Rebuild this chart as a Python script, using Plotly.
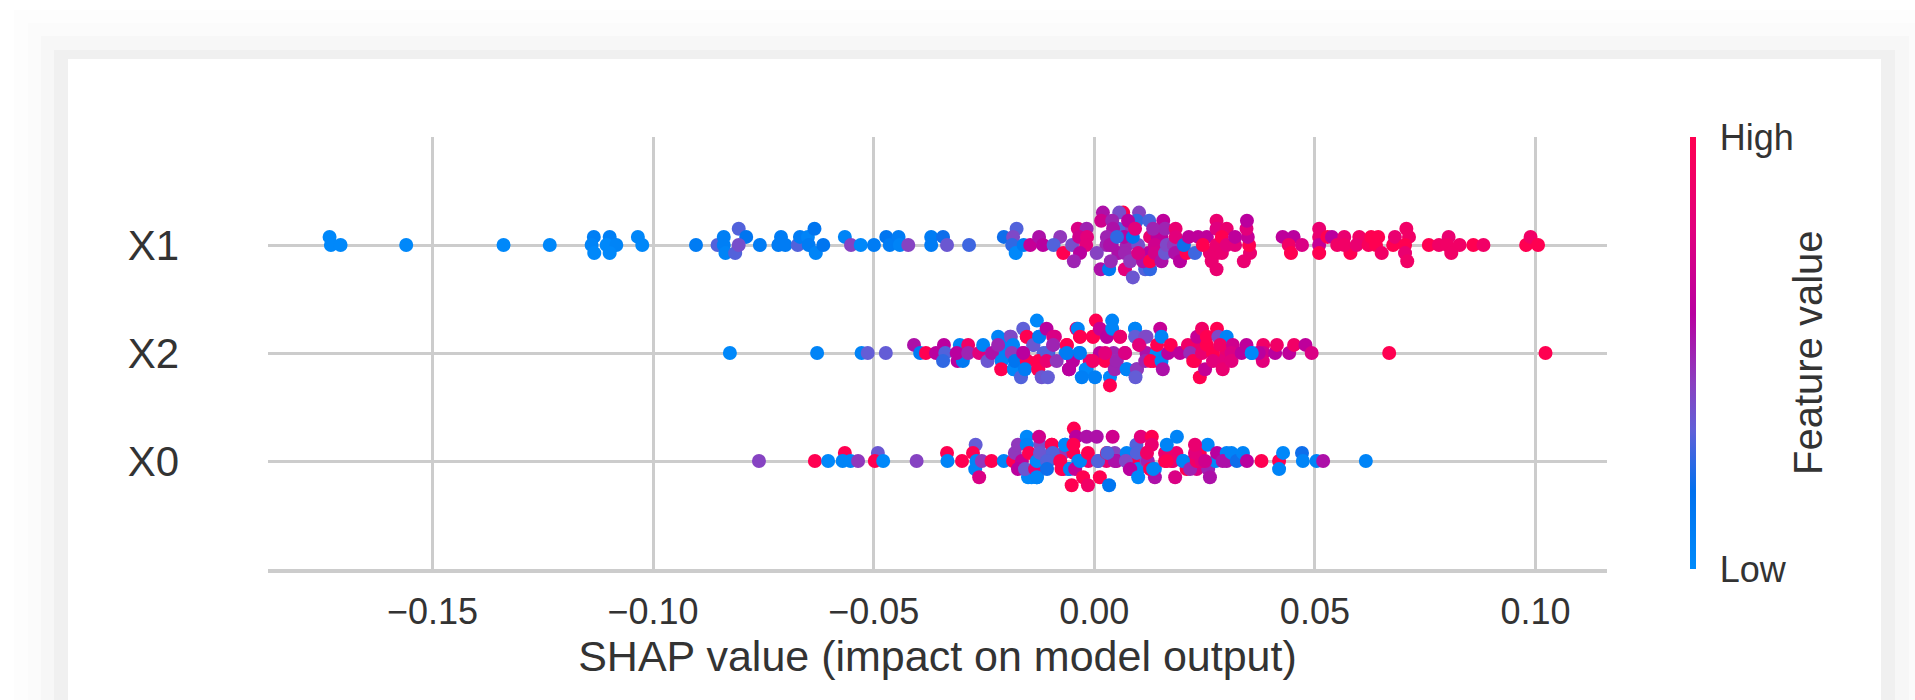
import plotly.graph_objects as go

features = ["X0", "X2", "X1"]
tick_values = [-0.15, -0.10, -0.05, 0.0, 0.05, 0.10]
tick_labels = ["−0.15", "−0.10", "−0.05", "0.00", "0.05", "0.10"]
x_title = "SHAP value (impact on model output)"
cbar_title = "Feature value"
swarm_step = 0.075

# SHAP value, swarm level, normalised feature value
x1_shap = [0.0038,0.0053,0.0072,0.0026,0.0042,0.0079,0.0053,0.0151,0.0140,0.0170,0.0261,0.0121,-0.1738,-0.1735,-0.1713,-0.1564,-0.1343,-0.1238,-0.1138,-0.1143,-0.1137,-0.1102,-0.1109,-0.1087,-0.1102,-0.1038,-0.1028,-0.0906,-0.0857,-0.0843,-0.0843,-0.0839,-0.0817,-0.0809,-0.0792,-0.0809,-0.0761,-0.0719,-0.0713,-0.0703,-0.0675,-0.0670,-0.0652,-0.0650,-0.0637,-0.0634,-0.0617,-0.0568,-0.0554,-0.0532,-0.0502,-0.0474,-0.0466,-0.0446,-0.0443,-0.0424,-0.0372,-0.0372,-0.0345,-0.0336,-0.0286,-0.0207,-0.0178,-0.0186,-0.0188,-0.0180,-0.0162,-0.0147,-0.0127,-0.0118,-0.0079,-0.0094,-0.0072,-0.0052,-0.0039,-0.0019,-0.0036,-0.0018,-0.0020,-0.0034,-0.0048,0.0004,0.0013,0.0032,0.0036,0.0064,0.0018,0.0014,0.0055,0.0039,0.0041,0.0027,0.0034,0.0066,0.0050,0.0068,0.0086,0.0068,0.0080,0.0114,0.0125,0.0109,0.0125,0.0098,0.0086,0.0098,0.0100,0.0095,0.0075,0.0091,0.0123,0.0155,0.0125,0.0142,0.0136,0.0136,0.0151,0.0159,0.0163,0.0159,0.0132,0.0179,0.0182,0.0183,0.0183,0.0193,0.0208,0.0202,0.0227,0.0213,0.0234,0.0254,0.0245,0.0265,0.0276,0.0276,0.0276,0.0288,0.0276,0.0276,0.0299,0.0288,0.0299,0.0318,0.0318,0.0338,0.0352,0.0350,0.0347,0.0344,0.0345,0.0426,0.0451,0.0440,0.0445,0.0470,0.0509,0.0509,0.0509,0.0509,0.0528,0.0538,0.0550,0.0566,0.0580,0.0566,0.0600,0.0594,0.0621,0.0627,0.0643,0.0638,0.0651,0.0677,0.0681,0.0707,0.0713,0.0704,0.0704,0.0709,0.0758,0.0781,0.0803,0.0800,0.0828,0.0809,0.0859,0.0882,0.0979,0.0989,0.1006]
x1_level = [0,-1,0,0,1,2,2,1,0,0,-1,-1,1,0,0,0,0,0,1,0,-1,1,0,0,-1,1,0,0,0,1,0,-1,-1,2,1,0,0,0,1,0,0,1,1,0,2,-1,0,1,0,0,0,1,0,1,0,0,1,0,1,0,0,1,2,1,0,-1,0,0,1,0,1,0,-1,0,2,2,1,1,0,-1,-2,-1,-3,-3,-2,4,4,3,4,3,2,1,0,1,1,-3,-4,-1,-2,-3,-3,-2,-2,0,1,-1,4,3,3,2,3,3,1,1,0,-1,-2,-1,0,2,2,0,-1,2,1,-2,-1,0,-1,1,1,1,0,-2,-3,-1,0,-1,3,2,2,1,0,0,1,-2,-1,0,1,2,3,1,1,0,-1,0,2,1,0,-1,1,1,0,1,-1,0,1,0,0,1,1,0,-1,0,1,2,1,0,-1,-2,0,0,1,0,0,-1,0,0,0,1,0]
x1_feat = [0.55,0.55,0.5,0.5,0.5,0.45,0.3,0.6,0.6,0.4,0.85,0.6,0.02,0.02,0.02,0.02,0.02,0.02,0.08,0.05,0.02,0.08,0.02,0.05,0.02,0.03,0.03,0.1,0.3,0.08,0.08,0.05,0.3,0.3,0.15,0.38,0.1,0.1,0.1,0.1,0.3,0.1,0.05,0.1,0.15,0.05,0.15,0.05,0.42,0.02,0.1,0.15,0.1,0.1,0.05,0.42,0.1,0.1,0.2,0.35,0.27,0.2,0.3,0.4,0.25,0.02,0.1,0.65,0.55,0.6,0.45,0.3,1,0.38,0.75,0.5,0.7,0.8,0.8,0.6,0.5,0.42,0.55,0.12,0.48,1,0.55,0.7,0.38,0.5,0.55,0.5,0.55,0.58,0.25,0.8,0.35,0.5,0.45,0.3,0.25,0.55,1,0.38,0.15,0.75,0.42,0.25,0.6,0.8,0.28,0.62,0.85,0.62,0.7,0.72,0.55,0.35,0.4,0.5,0.5,0.45,0.55,0.85,0.8,0.6,1,0.2,0.27,0.62,0.62,0.62,1,0.85,0.85,0.85,0.85,0.85,0.85,0.78,0.85,1,0.8,0.8,0.62,0.85,0.85,1,0.65,0.8,0.6,0.62,0.6,0.9,1,0.75,0.85,0.85,0.65,1,1,0.6,0.9,0.85,1,0.9,0.9,0.85,0.95,1,1,1,0.9,1,0.85,0.9,0.9,1,0.85,0.9,1,0.9,0.85,0.9,0.9,0.9,1,0.9,1,0.9,1]

x2_shap = [-0.0193,-0.0208,-0.0185,-0.0155,-0.0127,-0.0140,-0.0106,-0.0095,-0.0091,-0.0153,-0.0129,-0.0163,-0.0064,-0.0067,-0.0034,-0.0036,-0.0059,-0.0021,-0.0004,0.0027,0.0057,0.0042,0.0068,0.0049,0.0095,0.0101,0.0117,0.0091,0.0072,0.0011,-0.0012,0.0023,-0.0201,-0.0178,-0.0117,-0.0050,0.0117,0.0133,0.0140,0.0227,0.0299,0.0238,0.0284,-0.0829,-0.0631,-0.0530,-0.0516,-0.0475,-0.0411,-0.0397,-0.0384,-0.0361,-0.0343,-0.0340,-0.0345,-0.0312,-0.0300,-0.0307,-0.0288,-0.0314,-0.0288,-0.0263,-0.0254,-0.0244,-0.0234,-0.0220,-0.0220,-0.0212,-0.0213,-0.0191,-0.0186,-0.0189,-0.0184,-0.0182,-0.0168,-0.0163,-0.0132,-0.0155,-0.0155,-0.0159,-0.0140,-0.0163,-0.0127,-0.0129,-0.0129,-0.0110,-0.0095,-0.0109,-0.0110,-0.0095,-0.0087,-0.0121,-0.0107,-0.0064,-0.0064,-0.0059,-0.0042,-0.0039,-0.0034,-0.0034,-0.0019,-0.0030,0.0000,0.0002,-0.0005,-0.0005,0.0011,0.0027,0.0039,0.0039,0.0034,0.0034,0.0045,0.0057,0.0049,0.0023,0.0068,0.0072,0.0091,0.0091,0.0114,0.0100,0.0095,0.0092,0.0114,0.0126,0.0141,0.0148,0.0151,0.0151,0.0154,0.0166,0.0172,0.0193,0.0211,0.0216,0.0223,0.0232,0.0243,0.0238,0.0250,0.0243,0.0254,0.0254,0.0268,0.0277,0.0280,0.0268,0.0290,0.0299,0.0284,0.0313,0.0310,0.0310,0.0333,0.0344,0.0356,0.0370,0.0382,0.0382,0.0381,0.0372,0.0356,0.0409,0.0413,0.0441,0.0452,0.0478,0.0492,0.0668,0.1023]
x2_level = [2,0,-2,2,2,1,0,1,2,-1,-2,0,1,0,2,0,-2,-2,2,2,2,0,0,-1,-2,1,2,3,-2,0,-1,-1,1,0,0,-1,0,-1,0,-1,0,1,-1,0,0,0,0,0,1,0,0,0,1,0,-1,-1,-1,1,1,0,0,0,1,-1,0,2,1,-1,-2,2,1,0,-2,-1,-3,3,4,2,-1,-2,1,0,2,-1,-2,3,2,0,-1,1,-1,-3,-3,1,0,-2,3,3,2,0,-2,-3,-3,4,2,-1,3,2,4,3,-3,-4,-2,2,-1,0,0,-2,3,2,2,1,-2,-3,-1,-1,1,3,2,-1,-2,0,1,0,1,0,-1,2,3,-3,-2,0,1,2,0,3,2,-1,-2,2,1,1,0,-1,0,1,0,0,1,0,-1,0,0,0,1,0,1,1,0,0,0]
x2_feat = [0.42,0.05,0.02,1,0.02,0.2,0.25,0.45,0.75,0.85,0.95,0.6,1,0.05,1,0.05,0.55,0.02,1,0.6,1,0.5,0.75,0.4,0.45,1,0.4,0.05,0.02,0.6,0.85,1,0.05,0.05,0.3,0.6,0.55,1,0.02,1,0.85,0.85,0.8,0.02,0.05,0.05,0.33,0.33,0.55,0.1,1,0.6,0.6,0.3,0.25,0.6,0.12,0.05,0.9,0.6,0.5,0.8,0.05,0.35,0.55,0.05,0.5,0.05,1,0.4,0.05,0.45,0.02,0.15,0.3,0.32,0.02,1,1,0.1,0.35,0.6,0.1,1,1,0.6,0.75,0.3,0.85,0.5,0.45,0.35,0.33,1,0.1,0.6,0.85,0.05,1,0.1,0.02,0.08,0.08,1,1,0.9,0.65,0.6,0.05,0.05,0.02,1,0.5,0.85,0.5,0.8,0.75,0.05,0.05,0.33,0.4,0.8,0.45,0.33,0.5,1,1,0.65,0.05,0.05,0.55,0.6,1,0.62,0.9,0.48,1,0.65,0.9,1,0.65,0.85,1,1,1,1,0.4,0.8,0.85,0.05,0.9,0.7,0.75,0.8,0.6,0.62,0.05,0.55,0.9,0.7,0.8,0.6,0.02,0.6,0.9,0.62,0.9,0.62,0.75,1,1]

x0_shap = [-0.0144,-0.0140,-0.0132,-0.0132,-0.0125,-0.0106,-0.0098,-0.0098,-0.0079,-0.0072,-0.0072,-0.0068,-0.0061,-0.0049,-0.0038,-0.0015,0.0007,0.0026,0.0045,0.0049,0.0072,0.0079,0.0094,0.0094,0.0098,0.0117,0.0117,0.0136,0.0159,0.0159,0.0177,0.0185,0.0200,0.0208,0.0223,0.0231,0.0238,-0.0763,-0.0636,-0.0606,-0.0568,-0.0573,-0.0555,-0.0538,-0.0493,-0.0500,-0.0481,-0.0405,-0.0336,-0.0335,-0.0302,-0.0271,-0.0277,-0.0272,-0.0263,-0.0269,-0.0257,-0.0235,-0.0207,-0.0186,-0.0182,-0.0175,-0.0166,-0.0175,-0.0155,-0.0155,-0.0152,-0.0159,-0.0150,-0.0136,-0.0132,-0.0132,-0.0127,-0.0125,-0.0098,-0.0096,-0.0109,-0.0109,-0.0079,-0.0076,-0.0068,-0.0057,-0.0053,-0.0048,-0.0043,-0.0049,-0.0045,-0.0034,-0.0027,-0.0016,-0.0016,-0.0019,0.0004,0.0007,0.0027,0.0011,0.0032,0.0040,0.0045,0.0028,0.0072,0.0070,0.0080,0.0098,0.0095,0.0104,0.0120,0.0129,0.0129,0.0118,0.0136,0.0125,0.0132,0.0163,0.0186,0.0182,0.0174,0.0163,0.0200,0.0216,0.0231,0.0227,0.0256,0.0257,0.0261,0.0274,0.0277,0.0227,0.0242,0.0250,0.0299,0.0299,0.0290,0.0310,0.0322,0.0336,0.0345,0.0378,0.0418,0.0427,0.0418,0.0470,0.0472,0.0503,0.0518,0.0615]
x0_level = [-2,-1,0,-2,2,0,1,2,0,1,-1,2,-1,1,0,0,0,0,1,0,0,-1,2,0,-1,0,1,-1,0,1,0,1,0,-1,0,-1,1,0,0,0,1,0,0,0,1,0,0,0,1,0,0,2,1,-1,-2,0,0,0,0,0,1,2,0,-1,3,2,-2,-1,1,-1,-2,0,3,1,2,1,0,-1,0,-1,2,-1,-3,4,3,2,-1,0,-2,-3,1,3,3,0,1,-2,-3,3,0,1,1,0,-1,-2,1,3,0,3,2,1,-2,-1,-1,2,3,-2,0,0,0,-1,0,1,2,-1,-2,0,1,2,0,0,0,1,0,1,0,1,0,0,0,1,-1,1,0,0,0,0]
x0_feat = [0.02,0.3,0.05,0.02,0.4,0.25,0.3,1,1,0.45,0.75,0.05,0.05,1,0.05,0.85,0.3,0.85,0.42,0.6,0.42,0.6,0.3,1,0.02,0.42,0.85,0.05,1,0.85,0.85,0.85,0.02,1,0.8,0.75,1,0.42,1,0.02,1,0.05,0.05,0.45,0.35,1,0.02,0.42,1,0.05,1,0.33,1,0.05,0.75,0.05,0.45,1,0.05,1,0.45,0.45,0.65,0.6,0.02,0.05,0.02,0.35,1,0.85,0.05,0.02,0.7,0.35,1,0.3,0.3,0.2,1,1,0.02,0.05,1,1,0.6,1,0.65,0.05,1,0.9,1,0.55,0.55,0.3,1,1,0.15,0.7,0.55,0.3,0.05,0.4,0.6,0.02,0.3,0.8,0.5,1,0.85,0.9,0.55,1,0.05,0.05,0.05,0.75,0.85,1,0.05,0.5,0.9,0.8,0.02,0.5,0.55,0.02,0.6,0.85,0.8,0.7,0.55,0.05,0.55,0.05,0.2,0.05,0.6,1,1,0.02,0.05,0.2,0.05,0.05,0.55,0.05]

red_blue = [[0, "#008bfb"], [0.18, "#0070ee"], [0.32, "#6060d8"], [0.43, "#8a40c0"],
            [0.59, "#b800a0"], [0.78, "#e0007f"], [1, "#ff0051"]]

L, R, T, B = 268, 1607, 137, 569
W, H = 1915, 700
X0_PX, PX_PER_UNIT = 1094.3, 4412
fx = lambda p: (p - L) / (R - L)
fy = lambda p: (B - p) / (B - T)
# the readings above were taken against a slightly coarser scale estimate
recal = lambda v: (v * 4404 + 1095 - X0_PX) / PX_PER_UNIT

fig = go.Figure()
rows = [(2, x1_shap, x1_level, x1_feat), (1, x2_shap, x2_level, x2_feat), (0, x0_shap, x0_level, x0_feat)]
for row, sv, lv, fv in rows:
    fig.add_trace(go.Scatter(
        x=[recal(v) for v in sv], y=[row + k * swarm_step for k in lv], mode="markers", showlegend=False,
        marker=dict(size=14, color=fv, coloraxis="coloraxis", line=dict(width=0)),
    ))

# card with a soft stepped shadow
bands = [(14, 10, 1936, "#fdfdfd"), (28, 23, 1922, "#fbfbfb"), (41, 36, 1909, "#f7f7f7"),
         (54, 50, 1895, "#f0f0f0"), (68, 59, 1881, "#ffffff")]
shapes = [dict(type="rect", xref="paper", yref="paper", layer="below", line=dict(width=0),
               x0=fx(a), x1=fx(c), y0=fy(760), y1=fy(b), fillcolor=col) for a, b, c, col in bands]
shapes.append(dict(type="line", xref="x", yref="paper", layer="below", x0=0, x1=0, y0=0, y1=1,
                   line=dict(color="#999999", width=1.5)))

fig.update_layout(
    width=W, height=H, margin=dict(l=L, r=W - R, t=T, b=H - B),
    paper_bgcolor="#ffffff", plot_bgcolor="#ffffff", shapes=shapes,
    font=dict(family="Liberation Sans, Arial, sans-serif", color="#333333"),
    coloraxis=dict(
        cmin=0, cmax=1, colorscale=red_blue,
        colorbar=dict(
            x=fx(1690), xanchor="left", xpad=0, y=0.5, yanchor="middle", ypad=0, len=1,
            thickness=6, outlinewidth=0, tickvals=[0, 1], ticktext=["Low", "High"],
            ticks="outside", ticklen=17, tickcolor="rgba(0,0,0,0)", tickfont=dict(size=36, color="#333333"),
        ),
    ),
    annotations=[dict(text=cbar_title, xref="paper", yref="paper", x=fx(1808), y=fy(353), textangle=-90,
                      showarrow=False, xanchor="center", yanchor="middle",
                      font=dict(size=40, color="#333333"))],
    xaxis=dict(
        range=[(L - X0_PX) / PX_PER_UNIT, (R - X0_PX) / PX_PER_UNIT], tickvals=tick_values, ticktext=tick_labels,
        showgrid=True, gridcolor="#cccccc", gridwidth=3, zeroline=False,
        showline=True, linecolor="#cccccc", linewidth=3.5, ticks="", ticklabelstandoff=8,
        tickfont=dict(size=36, color="#333333"),
        title=dict(text=x_title, font=dict(size=43, color="#333333"), standoff=8),
    ),
    yaxis=dict(
        range=[-1, 3], tickvals=[0, 1, 2], ticktext=features,
        showgrid=True, gridcolor="#cccccc", gridwidth=3, zeroline=False, showline=False, ticks="",
        ticklabelstandoff=88, tickfont=dict(size=42, color="#333333"),
    ),
)

fig.write_html("out.html", config={"displayModeBar": False},
               post_script="document.body.style.margin='0';document.body.style.overflow='hidden';")
